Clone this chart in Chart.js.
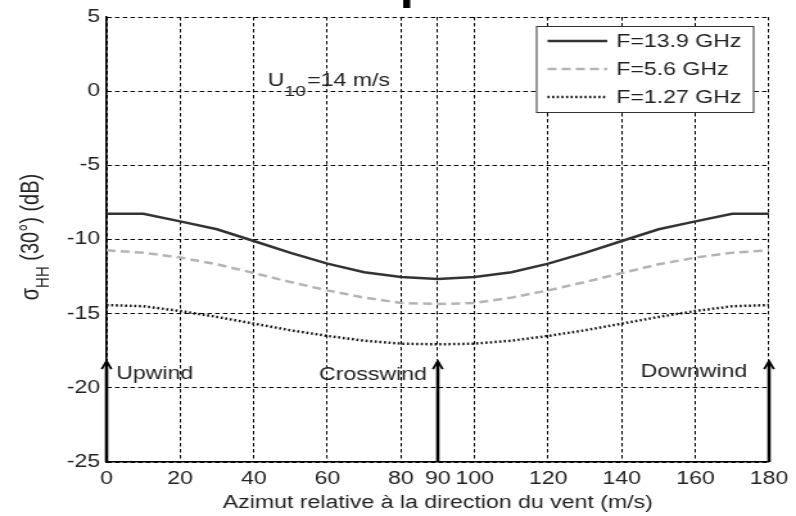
<!DOCTYPE html>
<html>
<head>
<meta charset="utf-8">
<script src="https://cdn.jsdelivr.net/npm/chart.js@4.4.1/dist/chart.umd.min.js"></script>
<style>
  html, body { margin: 0; padding: 0; background: #fff; overflow: hidden; }
  #c { display: block; }
</style>
</head>
<body>
<!-- the source figure is stretched horizontally, so the canvas is too (inline style so Chart.js keeps it) -->
<canvas id="c" width="620" height="516" style="width:796px;height:516px"></canvas>
<script>
const FONT = '"Liberation Sans", Arial, Helvetica, sans-serif';

const angles = [0, 10, 20, 30, 40, 50, 60, 70, 80, 90, 100, 110, 120, 130, 140, 150, 160, 170, 180];
const f139 = [-8.26, -8.26, -8.78, -9.31, -10.1, -10.9, -11.63, -12.21, -12.53, -12.66, -12.53, -12.21, -11.63, -10.9, -10.1, -9.31, -8.78, -8.26, -8.26];
const f56 = [-10.73, -10.89, -11.22, -11.67, -12.26, -12.87, -13.43, -13.92, -14.28, -14.35, -14.28, -13.92, -13.43, -12.87, -12.26, -11.67, -11.22, -10.89, -10.73];
const f127 = [-14.42, -14.5, -14.82, -15.22, -15.67, -16.12, -16.5, -16.82, -17.02, -17.07, -17.02, -16.82, -16.5, -16.12, -15.67, -15.22, -14.82, -14.5, -14.42];
const seriesNames = ['F=13.9 GHz', 'F=5.6 GHz', 'F=1.27 GHz'];

const xTicks = [0, 20, 40, 60, 80, 90, 100, 120, 140, 160, 180];
const yTicks = [-25, -20, -15, -10, -5, 0, 5];

const arrowAngles = [0, 90, 180];
const arrowTop = -18.2;
const windLabels = ['Upwind', 'Crosswind', 'Downwind'];

function pts(vals) {
  return angles.map((a, i) => ({x: a, y: vals[i]}));
}

const extras = {
  id: 'extras',
  afterDatasetsDraw(chart) {
    const ctx = chart.ctx;
    const xs = chart.scales.x, ys = chart.scales.y;
    const area = chart.chartArea;
    ctx.save();

    // arrows
    const yBase = ys.getPixelForValue(-25);
    const yTip = ys.getPixelForValue(arrowTop);
    ctx.strokeStyle = '#000';
    arrowAngles.forEach(a => {
      const px = xs.getPixelForValue(a);
      ctx.lineWidth = 2.6;
      ctx.beginPath();
      ctx.moveTo(px, yBase);
      ctx.lineTo(px, yTip + 1);
      ctx.stroke();
      ctx.lineWidth = 1.8;
      ctx.beginPath();
      ctx.moveTo(px - 3.8, yTip + 8);
      ctx.lineTo(px, yTip);
      ctx.lineTo(px + 3.8, yTip + 8);
      ctx.stroke();
    });

    // wind labels
    ctx.fillStyle = '#222';
    ctx.font = '18px ' + FONT;
    ctx.textBaseline = 'alphabetic';
    ctx.textAlign = 'left';
    ctx.fillText(windLabels[0], xs.getPixelForValue(0) + 7.5, 379);
    ctx.textAlign = 'right';
    ctx.fillText(windLabels[1], xs.getPixelForValue(90) - 8.5, 380);
    ctx.fillText(windLabels[2], xs.getPixelForValue(180) - 17, 377);

    // U10 annotation
    ctx.textAlign = 'left';
    let ux = xs.getPixelForValue(43.8);
    ctx.fillText('U', ux, 86);
    ux += ctx.measureText('U').width;
    ctx.font = '15px ' + FONT;
    ctx.fillText('10', ux, 96);
    ux += ctx.measureText('10').width + 1;
    ctx.font = '18px ' + FONT;
    ctx.fillText('=14 m/s', ux, 86);

    // legend
    const bx = area.right - 12.5 - 169, by = area.top + 9;
    ctx.fillStyle = '#fff';
    ctx.fillRect(bx, by, 169, 86);
    ctx.lineWidth = 1;
    ctx.strokeStyle = '#333';
    ctx.strokeRect(bx + 0.5, by + 0.5, 169, 86);
    chart.data.datasets.forEach((ds, i) => {
      const ly = by + 15 + i * 28;
      ctx.save();
      ctx.strokeStyle = ds.borderColor;
      ctx.lineWidth = ds.borderWidth;
      ctx.setLineDash(ds.borderDash || []);
      ctx.beginPath();
      ctx.moveTo(bx + 9, ly);
      ctx.lineTo(bx + 55.5, ly);
      ctx.stroke();
      ctx.restore();
      ctx.fillStyle = '#222';
      ctx.font = '18px ' + FONT;
      ctx.textAlign = 'left';
      ctx.textBaseline = 'middle';
      ctx.fillText(ds.label, bx + 62.5, ly + 1);
    });

    // y axis title, sigma with subscript
    ctx.save();
    ctx.translate(30, 237);
    ctx.rotate(-Math.PI / 2);
    ctx.fillStyle = '#222';
    ctx.textBaseline = 'alphabetic';
    ctx.textAlign = 'left';
    const big = '20px ' + FONT, small = '15px ' + FONT;
    ctx.font = big;
    const w1 = ctx.measureText('\u03c3').width;
    const w3 = ctx.measureText(' (30\u00b0) (dB)').width;
    ctx.font = small;
    const w2 = ctx.measureText('HH').width;
    let tx = -(w1 + w2 + w3) / 2;
    ctx.font = big;
    ctx.fillText('\u03c3', tx, 0);
    tx += w1;
    ctx.font = small;
    ctx.fillText('HH', tx, 8);
    tx += w2;
    ctx.font = big;
    ctx.fillText(' (30\u00b0) (dB)', tx, 0);
    ctx.restore();

    // bit of a cut-off title at the top
    ctx.fillStyle = '#000';
    ctx.fillRect(314, 0, 5.5, 8);

    ctx.restore();
  }
};

new Chart(document.getElementById('c'), {
  type: 'line',
  data: {
    datasets: [
      {label: seriesNames[0], data: pts(f139), borderColor: '#333', borderWidth: 2.5, borderDash: []},
      {label: seriesNames[1], data: pts(f56), borderColor: '#b4b4b4', borderWidth: 2.5, borderDash: [7, 4]},
      {label: seriesNames[2], data: pts(f127), borderColor: '#111', borderWidth: 2.5, borderDash: [1.6, 2]}
    ]
  },
  options: {
    responsive: false,
    animation: false,
    devicePixelRatio: 1,
    layout: {padding: {top: 17, right: 20, left: 0, bottom: 0}},
    elements: {point: {radius: 0}, line: {tension: 0, fill: false}},
    plugins: {legend: {display: false}, tooltip: {enabled: false}},
    scales: {
      x: {
        type: 'linear',
        min: 0,
        max: 180,
        afterBuildTicks: s => { s.ticks = xTicks.map(v => ({value: v})); },
        afterFit: s => { s.height = 54; },
        ticks: {color: '#222', font: {size: 18, family: FONT}, padding: 6, autoSkip: false, maxRotation: 0},
        grid: {color: '#000', lineWidth: 1, drawTicks: false},
        border: {display: true, color: '#000', width: 1.6, dash: [3.5, 2.5]},
        title: {display: true, text: 'Azimut relative \u00e0 la direction du vent (m/s)', color: '#222',
                font: {size: 18, family: FONT}, padding: {top: 0, bottom: 2}}
      },
      y: {
        min: -25,
        max: 5,
        afterBuildTicks: s => { s.ticks = yTicks.map(v => ({value: v})); },
        afterFit: s => { s.width = 83; },
        ticks: {color: '#222', font: {size: 18, family: FONT}, padding: 5},
        grid: {color: '#000', lineWidth: 1, drawTicks: false},
        border: {display: true, color: '#000', width: 1.6, dash: [3.5, 2.5]}
      }
    }
  },
  plugins: [extras]
});
</script>
</body>
</html>
